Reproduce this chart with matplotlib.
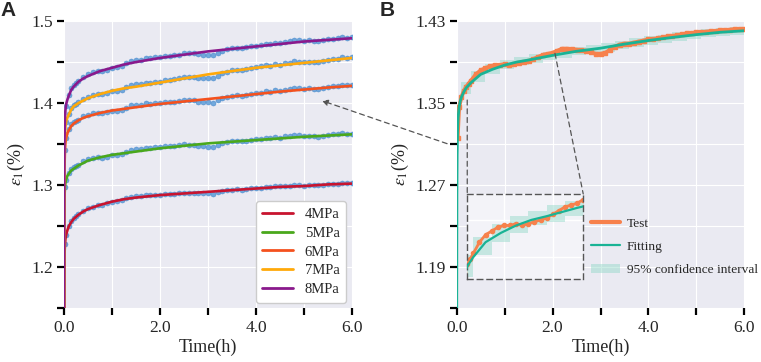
import numpy as np
import matplotlib
matplotlib.use("Agg")
import matplotlib.pyplot as plt
import seaborn as sns
from matplotlib.lines import Line2D
from matplotlib.patches import Patch, ConnectionPatch

# ---- data ----
# fitted curves, coarse time grid (h)
t_fit = [0, 0.005, 0.01, 0.02, 0.03, 0.05, 0.075, 0.1, 0.15, 0.2, 0.3, 0.4, 0.5, 0.75,
         1.0, 1.25, 1.5, 2.0, 2.5, 3.0, 3.5, 4.0, 4.5, 5.0, 5.5, 6.0]
fit_4 = [1.10, 1.19, 1.215, 1.228, 1.235, 1.241, 1.246, 1.250, 1.255, 1.259, 1.264, 1.268, 1.271, 1.276,
         1.280, 1.283, 1.285, 1.288, 1.290, 1.292, 1.294, 1.296, 1.298, 1.299, 1.301, 1.302]
fit_5 = [1.10, 1.26, 1.285, 1.298, 1.303, 1.308, 1.312, 1.314, 1.318, 1.320, 1.324, 1.327, 1.330, 1.334,
         1.337, 1.339, 1.341, 1.345, 1.348, 1.351, 1.353, 1.355, 1.357, 1.359, 1.3605, 1.362]
fit_6 = [1.10, 1.28, 1.32, 1.343, 1.352, 1.359, 1.364, 1.367, 1.372, 1.375, 1.379, 1.382, 1.384, 1.388,
         1.391, 1.393, 1.395, 1.399, 1.402, 1.405, 1.408, 1.411, 1.414, 1.4165, 1.419, 1.421]
fit_7 = [1.10, 1.30, 1.34, 1.362, 1.372, 1.379, 1.383, 1.386, 1.392, 1.396, 1.400, 1.403, 1.406, 1.411,
         1.415, 1.418, 1.420, 1.425, 1.430, 1.435, 1.439, 1.443, 1.446, 1.449, 1.452, 1.455]
fit_8 = [1.10, 1.31, 1.355, 1.382, 1.392, 1.400, 1.405, 1.409, 1.416, 1.420, 1.426, 1.430, 1.433, 1.439,
         1.443, 1.447, 1.450, 1.455, 1.459, 1.463, 1.466, 1.469, 1.472, 1.475, 1.477, 1.479]

# test points (h)
t_test = [0.02, 0.05, 0.1, 0.15, 0.2, 0.25, 0.3, 0.4, 0.5, 0.6, 0.7, 0.8, 0.9, 1.0,
          1.1, 1.2, 1.3, 1.4, 1.5, 1.6, 1.7, 1.8, 1.9, 2.0, 2.1, 2.2, 2.3, 2.4, 2.5,
          2.6, 2.7, 2.8, 2.9, 3.0, 3.1, 3.2, 3.3, 3.4, 3.5, 3.6, 3.7, 3.8, 3.9, 4.0,
          4.1, 4.2, 4.3, 4.4, 4.5, 4.6, 4.7, 4.8, 4.9, 5.0, 5.1, 5.2, 5.3, 5.4, 5.5,
          5.6, 5.7, 5.8, 5.9, 6.0]
test_4 = [1.228, 1.240, 1.2505, 1.256, 1.260, 1.262, 1.2645, 1.269, 1.272, 1.274, 1.2755, 1.2763, 1.278, 1.280,
          1.2807, 1.282, 1.284, 1.2857, 1.2865, 1.2866, 1.2877, 1.2878, 1.2884, 1.2885, 1.2894, 1.2893, 1.2897, 1.2901, 1.291,
          1.2909, 1.2908, 1.2902, 1.2901, 1.290, 1.2899, 1.2913, 1.2927, 1.2936, 1.2945, 1.2949, 1.2948, 1.2952, 1.2961, 1.2965,
          1.2969, 1.2978, 1.2977, 1.2986, 1.2985, 1.2992, 1.2994, 1.3001, 1.2998, 1.2995, 1.2999, 1.2998, 1.2997, 1.3006, 1.3015,
          1.3017, 1.3019, 1.3026, 1.3023, 1.3025]
test_5 = [1.298, 1.306, 1.315, 1.320, 1.322, 1.323, 1.325, 1.329, 1.332, 1.3336, 1.3342, 1.3336, 1.3348, 1.337,
          1.3368, 1.3376, 1.3404, 1.3432, 1.344, 1.3438, 1.3456, 1.3454, 1.3462, 1.346, 1.3476, 1.3472, 1.3478, 1.3484, 1.350,
          1.3496, 1.3492, 1.3478, 1.3474, 1.347, 1.3464, 1.3488, 1.3512, 1.3526, 1.354, 1.3544, 1.3538, 1.3542, 1.3556, 1.356,
          1.3564, 1.3578, 1.3572, 1.3586, 1.358, 1.3594, 1.3598, 1.3612, 1.3606, 1.360, 1.3603, 1.3596, 1.3589, 1.3602, 1.3615,
          1.3618, 1.3621, 1.3634, 1.3627, 1.363]
test_6 = [1.343, 1.357, 1.368, 1.374, 1.377, 1.378, 1.380, 1.384, 1.386, 1.3876, 1.3882, 1.3876, 1.3888, 1.391,
          1.3908, 1.3916, 1.3944, 1.3972, 1.398, 1.3978, 1.3996, 1.3994, 1.4002, 1.400, 1.4016, 1.4012, 1.4018, 1.4024, 1.404,
          1.4036, 1.4032, 1.4018, 1.4014, 1.401, 1.4006, 1.4032, 1.4058, 1.4074, 1.409, 1.4096, 1.4092, 1.4098, 1.4114, 1.412,
          1.4126, 1.4142, 1.4138, 1.4154, 1.415, 1.4165, 1.417, 1.4185, 1.418, 1.4175, 1.418, 1.4175, 1.417, 1.4185, 1.420,
          1.4204, 1.4208, 1.4222, 1.4216, 1.422]
test_7 = [1.362, 1.377, 1.387, 1.394, 1.398, 1.399, 1.401, 1.405, 1.408, 1.410, 1.411, 1.4108, 1.4124, 1.415,
          1.4152, 1.4164, 1.4194, 1.4222, 1.423, 1.423, 1.425, 1.425, 1.426, 1.426, 1.428, 1.428, 1.429, 1.430, 1.432,
          1.432, 1.432, 1.431, 1.431, 1.431, 1.4308, 1.4336, 1.4364, 1.4382, 1.440, 1.4408, 1.4406, 1.4414, 1.4432, 1.444,
          1.4446, 1.4462, 1.4458, 1.4474, 1.447, 1.4486, 1.4492, 1.4508, 1.4504, 1.450, 1.4506, 1.4502, 1.4498, 1.4514, 1.453,
          1.4536, 1.4542, 1.4558, 1.4554, 1.456]
test_8 = [1.380, 1.397, 1.410, 1.418, 1.422, 1.424, 1.427, 1.432, 1.435, 1.4374, 1.4388, 1.4388, 1.4404, 1.443,
          1.4436, 1.4452, 1.4486, 1.4518, 1.453, 1.453, 1.455, 1.455, 1.456, 1.456, 1.4578, 1.4576, 1.4584, 1.4592, 1.461,
          1.4608, 1.4606, 1.4594, 1.4592, 1.459, 1.4586, 1.4612, 1.4638, 1.4654, 1.467, 1.4676, 1.4672, 1.4678, 1.4694, 1.470,
          1.4706, 1.4722, 1.4718, 1.4734, 1.473, 1.4746, 1.4752, 1.4768, 1.4764, 1.476, 1.4764, 1.4758, 1.4752, 1.4766, 1.478,
          1.4784, 1.4788, 1.4802, 1.4796, 1.480]

labels_a = ["4MPa", "5MPa", "6MPa", "7MPa", "8MPa"]
colors_a = ["#C8142F", "#4AA81C", "#F4511E", "#FFA90A", "#8A198C"]

# panel B: 6MPa test vs fit and confidence band
fit_b = [1.10, 1.26, 1.30, 1.325, 1.336, 1.346, 1.352, 1.356, 1.361, 1.365, 1.370, 1.374, 1.378, 1.383,
         1.387, 1.390, 1.392, 1.3965, 1.4005, 1.4035, 1.4075, 1.411, 1.414, 1.4167, 1.419, 1.4205]
test_b = [1.316, 1.346, 1.356, 1.362, 1.366, 1.369, 1.372, 1.378, 1.382, 1.384, 1.386, 1.387, 1.387, 1.388,
          1.387, 1.388, 1.389, 1.390, 1.391, 1.393, 1.395, 1.397, 1.398, 1.399, 1.401, 1.403, 1.403, 1.4025, 1.402,
          1.4015, 1.401, 1.3995, 1.398, 1.398, 1.399, 1.402, 1.405, 1.407, 1.408, 1.408, 1.409, 1.410, 1.411, 1.412,
          1.4125, 1.413, 1.414, 1.415, 1.4155, 1.416, 1.417, 1.418, 1.418, 1.419, 1.419, 1.4195, 1.420, 1.420, 1.421,
          1.421, 1.4215, 1.422, 1.422, 1.422]
t_band = [0.1, 0.3, 0.6, 0.9, 1.2, 1.5, 1.8, 2.1, 2.4, 2.7, 3.0, 3.3, 3.6, 3.9, 4.2, 4.5, 4.8, 5.1, 5.4, 5.7, 6.0]
band_lo = [1.359, 1.371, 1.378, 1.383, 1.387, 1.389, 1.392, 1.394, 1.397, 1.399, 1.400, 1.403, 1.405, 1.407,
           1.4085, 1.411, 1.4125, 1.414, 1.415, 1.416, 1.416]
band_hi = [1.371, 1.381, 1.388, 1.392, 1.395, 1.398, 1.400, 1.403, 1.405, 1.407, 1.409, 1.411, 1.413, 1.4155,
           1.4165, 1.419, 1.4205, 1.422, 1.423, 1.424, 1.424]

xticks = [0, 1, 2, 3, 4, 5, 6]
xticklabels = ["0.0", "", "2.0", "", "4.0", "", "6.0"]
yticks_a = [1.15, 1.20, 1.25, 1.30, 1.35, 1.40, 1.45, 1.50]
yticklabels_a = ["", "1.2", "", "1.3", "", "1.4", "", "1.5"]
yticks_b = [1.15, 1.19, 1.23, 1.27, 1.31, 1.35, 1.39, 1.43]
yticklabels_b = ["", "1.19", "", "1.27", "", "1.35", "", "1.43"]

# ---- style ----
sns.set_style("darkgrid")
plt.rcParams["font.family"] = ["Liberation Serif", "DejaVu Serif"]
plt.rcParams["mathtext.fontset"] = "stix"

TEST_B = "#F7814C"
FIT_B = "#19B395"
BAND = "#8ED8C6"

fig = plt.figure(figsize=(7.61, 3.62), dpi=100)
axA = fig.add_axes([0.0841, 0.148, 0.3785, 0.794])
axB = fig.add_axes([0.6001, 0.148, 0.3780, 0.794])


def style_axis(ax, yt, ytl):
    ax.set_xlim(0, 6)
    ax.set_xticks(xticks)
    ax.set_xticklabels(xticklabels)
    ax.set_yticks(yt)
    ax.set_yticklabels(ytl)
    ax.set_ylim(yt[0], yt[-1])
    ax.tick_params(axis="both", which="major", direction="out", length=5, width=1.6,
                   color="black", labelsize=12.5, pad=3, bottom=True, left=True)
    for s in ax.spines.values():
        s.set_visible(False)
    ax.set_xlabel("Time(h)", fontsize=13, labelpad=2)
    ax.set_ylabel(r"$\varepsilon_1$(%)", fontsize=13, labelpad=3)


# ---- panel A ----
for yv in [test_4, test_5, test_6, test_7, test_8]:
    axA.plot(t_test, yv, linestyle="none", marker="o", ms=3.6, color="#5B9BD8",
             mec="#4A8ACB", mew=0.4, alpha=0.85, zorder=2)
for yv, lab, c in zip([fit_4, fit_5, fit_6, fit_7, fit_8], labels_a, colors_a):
    axA.plot(t_fit, yv, color=c, lw=1.9, label=lab, zorder=3)
style_axis(axA, yticks_a, yticklabels_a)
leg = axA.legend(loc="lower right", fontsize=10.5, frameon=True, facecolor="white",
                 edgecolor="#CCCCCC", framealpha=1, handlelength=2.1, handletextpad=0.8,
                 labelspacing=0.38, borderpad=0.45, borderaxespad=0.4)
for h in leg.get_lines():
    h.set_linewidth(2)

# ---- panel B ----
axB.fill_between(t_band, band_lo, band_hi, step="post", color=BAND, alpha=0.45, lw=0, zorder=1)
axB.plot(t_test, test_b, color=TEST_B, lw=2.8, marker="s", ms=2.2, zorder=2)
axB.plot(t_fit, fit_b, color=FIT_B, lw=2.0, zorder=3)
style_axis(axB, yticks_b, yticklabels_b)

# inset
axI = fig.add_axes([0.614, 0.2285, 0.1524, 0.2357])
axI.set_facecolor("#F3F3F8")
axI.fill_between(t_band, band_lo, band_hi, step="post", color=BAND, alpha=0.45, lw=0, zorder=1)
axI.plot(t_test, test_b, color=TEST_B, lw=2.0, marker="o", ms=3, zorder=2)
axI.plot(t_fit, fit_b, color=FIT_B, lw=1.6, zorder=3)
axI.set_xlim(0.2, 2.1)
axI.set_ylim(1.358, 1.404)
axI.set_xticks([0.8, 1.6])
axI.set_yticks([1.37, 1.39])
axI.tick_params(length=0, labelbottom=False, labelleft=False)
axI.grid(True, color="white", lw=1)
for s in axI.spines.values():
    s.set_visible(True)
    s.set_linestyle((0, (4, 3)))
    s.set_color("#555555")
    s.set_linewidth(1.0)

# connectors from curve to inset
for xy_main, xy_ins in [((0.22, 1.353), (0, 1)), ((2.05, 1.3985), (1, 1))]:
    cp = ConnectionPatch(xyA=xy_main, coordsA=axB.transData, xyB=xy_ins, coordsB=axI.transAxes,
                         linestyle=(0, (4, 3)), color="#555555", lw=0.9)
    fig.add_artist(cp)

# arrow from B back to A
arr = ConnectionPatch(xyA=(-0.2, 1.3105), coordsA=axB.transData, xyB=(5.37, 1.403), coordsB=axA.transData,
                      arrowstyle="-|>", mutation_scale=9, linestyle=(0, (4, 3)), color="#555555", lw=0.9)
fig.add_artist(arr)

# legend B
hB = [Line2D([], [], color=TEST_B, lw=3),
      Line2D([], [], color=FIT_B, lw=1.6),
      Patch(facecolor=BAND, alpha=0.45, lw=0)]
fig.legend(hB, ["Test", "Fitting", "95% confidence interval"], loc="center left",
           bbox_to_anchor=(0.764, 0.318), frameon=False, fontsize=9.6, handlelength=2.2,
           handletextpad=0.5, labelspacing=0.8, borderpad=0.2)

# panel letters
fig.text(0.0, 0.997, "A", fontsize=15, fontweight="bold", family="Liberation Sans", va="top", ha="left")
fig.text(0.499, 0.997, "B", fontsize=15, fontweight="bold", family="Liberation Sans", va="top", ha="left")

fig.savefig("out.png", dpi=100)
